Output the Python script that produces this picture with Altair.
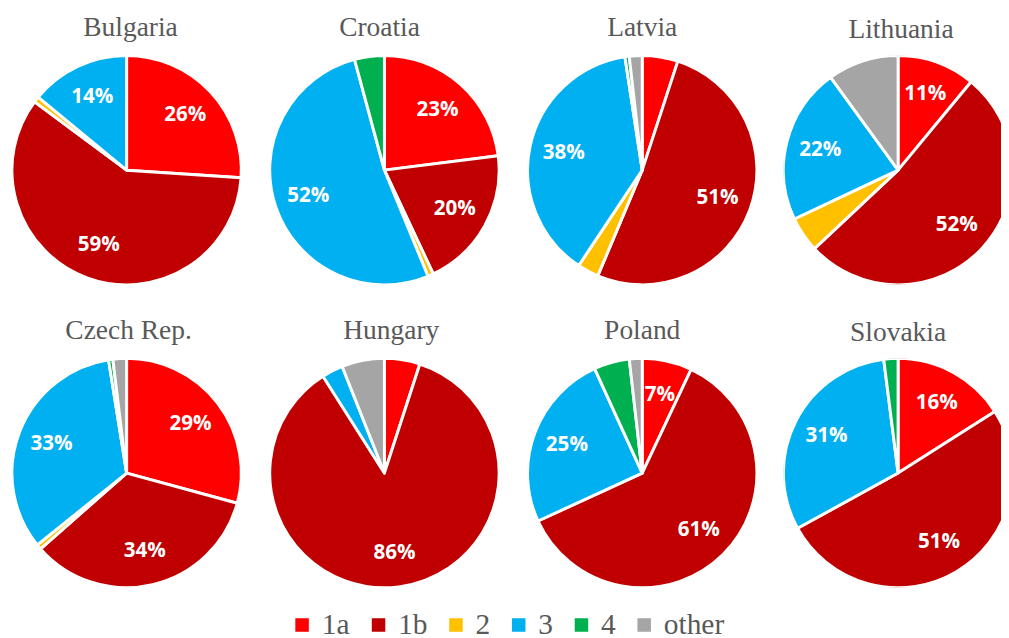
import altair as alt
import pandas as pd

countries = ["Bulgaria", "Croatia", "Latvia", "Lithuania",
             "Czech Rep.", "Hungary", "Poland", "Slovakia"]
categories = ["1a", "1b", "2", "3", "4", "other"]
colors = ["#FF0000", "#C00000", "#FFC000", "#00B0F0", "#00B050", "#A5A5A5"]

# shares (%) per country, in the order of `countries`
share_1a = [26, 23, 5, 11, 29, 5, 7, 16]
share_1b = [59, 20, 51, 52, 34, 86, 61, 51]
share_2 = [0.8, 0.8, 3, 5, 0.7, 0, 0, 0]
share_3 = [14, 52, 38, 22, 33, 3, 25, 31]
share_4 = [0, 4.2, 0.6, 0, 0.6, 0, 5, 2]
share_other = [0, 0, 1.8, 10, 1.9, 6, 1.8, 0]

series = [share_1a, share_1b, share_2, share_3, share_4, share_other]
labelled = ["1a", "1b", "3"]

rows = []
for i, c in enumerate(countries):
    for j, cat in enumerate(categories):
        v = series[j][i]
        if v > 0:
            rows.append({
                "country": c,
                "cat": cat,
                "idx": j,
                "value": v,
                "label": f"{round(v)}%" if (v >= 6.5 and cat in labelled) else "",
            })
df = pd.DataFrame(rows)

R = 117          # arc radius (white stroke eats ~1.5 px)
C = R            # pie centre inside each panel
title_dx = [4, -5, 0, 9, 2, 7, 0, 6]


def panel(i):
    c = countries[i]
    last = (i % 4 == 3)
    w = 222 if last else 2 * C
    base = alt.Chart(df).transform_filter(alt.datum.country == c)
    arc = base.mark_arc(stroke="white", strokeWidth=3, strokeJoin="round",
                        radius=R, clip=last).encode(
        theta=alt.Theta("value:Q", stack=True),
        color=alt.Color(
            "cat:N",
            scale=alt.Scale(domain=categories, range=colors),
            legend=alt.Legend(
                title=None, orient="none", direction="horizontal",
                legendX=281, legendY=566,
                symbolType="square", symbolSize=190, symbolStrokeWidth=0,
                labelFont="Liberation Serif", labelFontSize=30,
                labelColor="#595959", columnPadding=14, labelOffset=5,
            ),
        ),
        order=alt.Order("idx:Q"),
        x=alt.value(C),
        y=alt.value(C),
    )
    text = base.mark_text(radius=82, font="Open Sans", fontWeight="bold",
                          fontSize=21, color="white").encode(
        theta=alt.Theta("value:Q", stack=True),
        order=alt.Order("idx:Q"),
        text="label:N",
        x=alt.value(C),
        y=alt.value(C),
    )
    return alt.layer(arc, text).properties(
        width=w, height=2 * C,
        title=alt.TitleParams(
            c, font="Liberation Serif", fontSize=28, fontWeight="normal",
            color="#595959", anchor="middle", offset=12, dx=title_dx[i],
        ),
    )


row1 = alt.hconcat(*[panel(i) for i in range(4)], spacing=25)
row2 = alt.hconcat(*[panel(i) for i in range(4, 8)], spacing=25)

chart = alt.vconcat(row1, row2, spacing=31).resolve_scale(
    theta="independent"
).properties(
    padding={"left": 2, "top": 0, "right": 0, "bottom": 0}
).configure_view(stroke=None)

chart.save("out.html", embed_options={"renderer": "svg", "actions": False})
